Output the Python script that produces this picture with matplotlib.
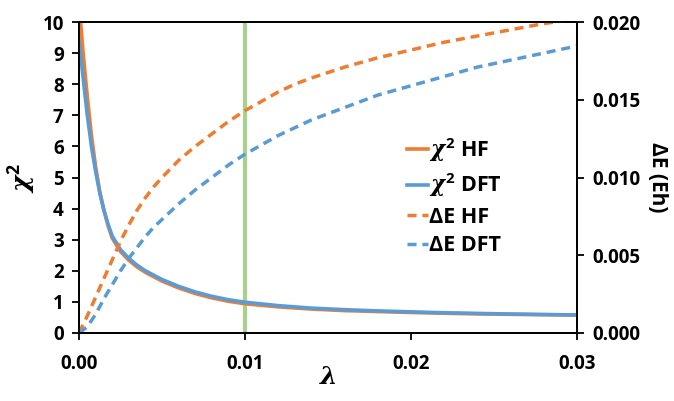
import matplotlib
matplotlib.use("Agg")
import matplotlib.pyplot as plt

plt.rcParams['font.family'] = ['Open Sans', 'DejaVu Sans']
plt.rcParams['font.weight'] = 'bold'
plt.rcParams['mathtext.fontset'] = 'custom'
plt.rcParams['mathtext.it'] = 'DejaVu Serif:italic:bold'
plt.rcParams['mathtext.rm'] = 'Open Sans:bold'
plt.rcParams['mathtext.bf'] = 'Open Sans:bold'

# chi^2 curves
lam_chi = [0, 0.00025, 0.0005, 0.00075, 0.001, 0.00125, 0.0015, 0.00175, 0.002, 0.0025,
           0.003, 0.0035, 0.004, 0.005, 0.006, 0.007, 0.008, 0.009, 0.010, 0.012,
           0.014, 0.016, 0.018, 0.020, 0.022, 0.024, 0.026, 0.028, 0.030]
chi_hf = [10.6, 9.0, 7.6, 6.35, 5.35, 4.55, 3.95, 3.45, 3.05, 2.62,
          2.34, 2.12, 1.95, 1.67, 1.45, 1.27, 1.13, 1.02, 0.94, 0.84,
          0.77, 0.72, 0.69, 0.66, 0.635, 0.615, 0.60, 0.588, 0.578]
chi_dft = [9.4, 8.2, 7.0, 6.0, 5.2, 4.5, 3.95, 3.5, 3.12, 2.68,
           2.4, 2.18, 2.0, 1.72, 1.5, 1.32, 1.18, 1.07, 0.99, 0.88,
           0.80, 0.75, 0.71, 0.68, 0.65, 0.63, 0.61, 0.595, 0.58]

# Delta E curves (Eh)
lam_de = [0, 0.0005, 0.001, 0.0015, 0.002, 0.0025, 0.003, 0.0035, 0.004, 0.0045,
          0.005, 0.006, 0.007, 0.008, 0.009, 0.010, 0.011, 0.012, 0.013, 0.014, 0.016, 0.018,
          0.020, 0.022, 0.024, 0.026, 0.028, 0.030]
de_hf = [0, 0.0011, 0.0023, 0.0035, 0.0047, 0.0059, 0.00695, 0.0079, 0.0087, 0.0094,
         0.0100, 0.0111, 0.0120, 0.0128, 0.0136, 0.0143, 0.0149, 0.0155, 0.0160, 0.0164, 0.0171, 0.0177,
         0.0182, 0.0187, 0.0191, 0.0195, 0.0199, 0.0202]
de_dft = [0, 0.0004, 0.0012, 0.0022, 0.0031, 0.0040, 0.0048, 0.0055, 0.0062, 0.0068,
          0.0073, 0.0083, 0.0092, 0.0100, 0.0108, 0.0115, 0.0121, 0.0127, 0.0132, 0.0137, 0.0145, 0.0153,
          0.0159, 0.0165, 0.0171, 0.01755, 0.0180, 0.01846]

xticks = [0.00, 0.01, 0.02, 0.03]
xticklabels = ['0.00', '0.01', '0.02', '0.03']
yticks_left = list(range(0, 11))
yticks_right = [0.000, 0.005, 0.010, 0.015, 0.020]
yticklabels_right = ['0.000', '0.005', '0.010', '0.015', '0.020']
marker_lam = 0.01

ORANGE = '#ED7D31'
BLUE = '#5B9BD5'
GREEN = '#A9D18E'

fig = plt.figure(figsize=(6.74, 4.01), dpi=100)
ax = fig.add_axes([79/674, 68/401, (577-79)/674, (333-22)/401])
ax2 = ax.twinx()

ax.axvline(marker_lam, color=GREEN, lw=3.0, zorder=1)
l1, = ax.plot(lam_chi, chi_hf, color=ORANGE, lw=2.6, label=r'$\chi^{2}$ HF', zorder=3)
l2, = ax.plot(lam_chi, chi_dft, color=BLUE, lw=2.6, label=r'$\chi^{2}$ DFT', zorder=4)
l3, = ax2.plot(lam_de, de_hf, color=ORANGE, lw=2.5, ls=(0, (2.6, 1.7)), label='ΔE HF')
l4, = ax2.plot(lam_de, de_dft, color=BLUE, lw=2.5, ls=(0, (2.6, 1.7)), label='ΔE DFT')

ax.set_xlim(0, 0.03)
ax.set_ylim(0, 10)
ax2.set_ylim(0, 0.020)
ax.set_xticks(xticks)
ax.set_xticklabels(xticklabels)
ax.set_yticks(yticks_left)
ax2.set_yticks(yticks_right)
ax2.set_yticklabels(yticklabels_right)

for a in (ax, ax2):
    for s in a.spines.values():
        s.set_linewidth(1.3)
        s.set_color('black')
ax.tick_params(axis='both', direction='out', length=5, width=1.3, labelsize=13.5, pad=6)
ax2.tick_params(axis='y', direction='out', length=5, width=1.3, labelsize=13.5, pad=6)
ax.tick_params(axis='x', pad=10)

ax.set_xlabel(r'$\lambda$', fontsize=18, labelpad=-6)
ax.set_ylabel(r'$\chi^{2}$', fontsize=18, labelpad=4)
ax2.set_ylabel('ΔE (Eh)', fontsize=15, fontweight='bold', rotation=270, labelpad=20)

leg = ax.legend(handles=[l1, l2, l3, l4], loc='center left', bbox_to_anchor=(0.62, 0.44),
                frameon=False, fontsize=15.5, handlelength=0.95, handletextpad=0.05,
                labelspacing=0.35)
for t in leg.get_texts():
    t.set_fontweight('bold')

fig.savefig('out.png', dpi=100)
